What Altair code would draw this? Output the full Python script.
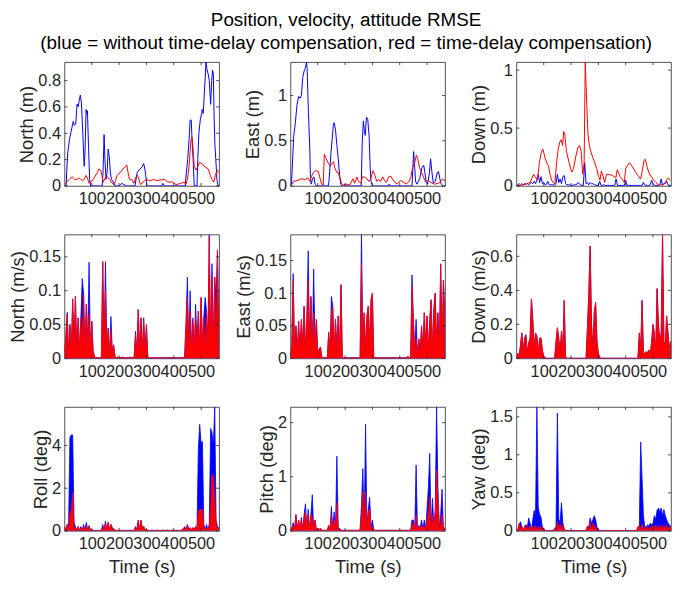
import altair as alt
import pandas as pd

FONT = "Liberation Sans"
AXC = "#262626"
BLUE = "#0000ff"
RED = "#ff0000"

TITLE_LINES = [
    "Position, velocity, attitude RMSE",
    "(blue = without time-delay compensation, red = time-delay compensation)",
]
X_TICKS = [100, 200, 300, 400, 500]
X_MAX = 566
GRID_STEP = 5  # seconds between samples of the grid-sampled series

# ---------------- Position (m): (time s, value) pairs ----------------
POS_N_BLUE = [(0, 0), (6, 0), (8, 0.1), (12, 0.25), (18, 0.35), (28, 0.45), (32, 0.49), (36, 0.46),
              (41, 0.47), (46, 0.62), (50, 0.60), (54, 0.65), (58, 0.69), (62, 0.63), (67, 0.40),
              (72, 0.15), (75, 0.25), (79, 0.58), (82, 0.55), (84, 0.57), (88, 0.3), (92, 0.05),
              (96, 0), (138, 0), (141, 0.1), (145, 0.39), (148, 0.2), (152, 0.05), (156, 0.1),
              (160, 0.28), (164, 0.22), (168, 0.1), (172, 0.05), (178, 0.03), (186, 0), (200, 0),
              (210, 0.02), (225, 0), (258, 0), (262, 0.05), (266, 0.1), (272, 0.12), (278, 0.13),
              (286, 0.15), (290, 0.17), (295, 0.12), (302, 0), (355, 0), (360, 0.02), (365, 0),
              (442, 0), (446, 0.1), (451, 0.2), (456, 0.35), (460, 0.5), (464, 0.5), (467, 0.35),
              (471, 0.2), (475, 0), (485, 0), (488, 0.2), (492, 0.4), (497, 0.5), (502, 0.55),
              (504, 0.58), (508, 0.55), (514, 0.78), (518, 0.94), (522, 0.88), (526, 0.85),
              (530, 0.8), (535, 0.62), (539, 0.8), (542, 0.88), (545, 0.85), (548, 0.5),
              (551, 0.3), (554, 0.2), (558, 0.05), (562, 0), (566, 0)]
POS_N_RED = [(0, 0.01), (5, 0.02), (12, 0.04), (18, 0.05), (28, 0.07), (33, 0.06), (38, 0.05),
             (46, 0.05), (54, 0.06), (60, 0.05), (66, 0.04), (72, 0.05), (79, 0.08), (84, 0.06),
             (90, 0.02), (98, 0.03), (108, 0.06), (120, 0.1), (126, 0.13), (132, 0.12), (136, 0.09),
             (142, 0.03), (149, 0.06), (156, 0.07), (166, 0.05), (170, 0.03), (180, 0.01),
             (187, 0.04), (192, 0.08), (197, 0.09), (204, 0.1), (210, 0.12), (220, 0.14),
             (228, 0.16), (233, 0.1), (238, 0.05), (246, 0.05), (254, 0.02), (262, 0.07),
             (268, 0.08), (274, 0.04), (278, 0.01), (288, 0.03), (300, 0.05), (312, 0.04),
             (327, 0.05), (336, 0.04), (366, 0.05), (378, 0.03), (396, 0.03), (408, 0.01),
             (426, 0.02), (438, 0.03), (444, 0.01), (450, 0.05), (456, 0.15), (463, 0.35),
             (467, 0.37), (470, 0.3), (475, 0.15), (482, 0.12), (489, 0.15), (494, 0.18),
             (504, 0.17), (511, 0.15), (518, 0.14), (526, 0.13), (534, 0.08), (540, 0.05),
             (547, 0.03), (552, 0.08), (559, 0.12), (564, 0.1)]

POS_E_BLUE = [(0, 0), (4, 0.02), (8, 0.3), (12, 0.55), (18, 0.7), (24, 0.9), (30, 0.99), (35, 0.97),
              (40, 1.0), (45, 1.2), (50, 1.27), (54, 1.3), (59, 1.37), (61, 1.3), (66, 0.8),
              (71, 0.4), (73, 0.1), (76, 0.02), (81, 0.08), (86, 0.1), (90, 0.02), (95, 0),
              (138, 0), (141, 0.05), (148, 0.35), (157, 0.67), (160, 0.7), (165, 0.62), (170, 0.45),
              (175, 0.3), (180, 0.12), (184, 0.02), (189, 0), (259, 0), (263, 0.5), (267, 0.72),
              (271, 0.6), (274, 0.56), (278, 0.76), (283, 0.74), (288, 0.55), (292, 0.2),
              (295, 0.05), (300, 0), (356, 0), (361, 0.02), (366, 0), (445, 0), (451, 0.38),
              (455, 0.2), (458, 0.05), (463, 0.02), (473, 0.08), (481, 0.2), (488, 0.23),
              (492, 0.15), (497, 0.05), (502, 0.02), (509, 0.15), (513, 0.3), (518, 0.15),
              (523, 0.03), (530, 0.05), (538, 0.15), (542, 0.16), (547, 0.08), (552, 0.02),
              (560, 0), (566, 0)]
POS_E_RED = [(0, 0.01), (6, 0.02), (12, 0.05), (24, 0.06), (42, 0.08), (54, 0.07), (64, 0.09),
             (71, 0.05), (76, 0.1), (84, 0.15), (92, 0.17), (102, 0.16), (107, 0.1), (114, 0.02),
             (120, 0.01), (124, 0.35), (131, 0.3), (139, 0.25), (146, 0.22), (153, 0.25),
             (158, 0.27), (162, 0.2), (170, 0.15), (175, 0.15), (182, 0.08), (187, 0.03),
             (193, 0.01), (205, 0.02), (217, 0.01), (229, 0.08), (235, 0.03), (244, 0.1),
             (249, 0.05), (259, 0.03), (263, 0.1), (270, 0.1), (280, 0.08), (287, 0.05),
             (294, 0.08), (302, 0.17), (309, 0.12), (316, 0.05), (323, 0.07), (330, 0.05),
             (338, 0.1), (345, 0.06), (352, 0.04), (359, 0.1), (367, 0.11), (379, 0.05),
             (391, 0.02), (403, 0.06), (415, 0.04), (425, 0.02), (434, 0.05), (441, 0.1),
             (447, 0.2), (454, 0.25), (461, 0.34), (466, 0.3), (473, 0.2), (480, 0.15),
             (487, 0.1), (494, 0.05), (502, 0.06), (509, 0.05), (519, 0.03), (528, 0.02),
             (542, 0.03), (554, 0.06), (560, 0.08), (565, 0.05)]

POS_D_RED = [(0, 0), (26, 0.01), (50, 0.03), (63, 0.1), (69, 0.08), (77, 0.05), (84, 0.2),
             (92, 0.3), (97, 0.32), (104, 0.25), (111, 0.2), (118, 0.17), (123, 0.1), (129, 0.05),
             (135, 0.03), (141, 0.02), (147, 0.2), (153, 0.32), (159, 0.38), (164, 0.4),
             (169, 0.35), (173, 0.47), (177, 0.45), (183, 0.3), (193, 0.2), (202, 0.12),
             (209, 0.15), (217, 0.25), (225, 0.33), (231, 0.35), (237, 0.3), (243, 0.1),
             (248, 0.2), (252, 1.07), (257, 0.75), (262, 0.45), (267, 0.35), (272, 0.3),
             (279, 0.25), (287, 0.2), (294, 0.15), (301, 0.08), (306, 0.05), (311, 0.13),
             (318, 0.08), (323, 0.03), (330, 0.1), (340, 0.1), (352, 0.09), (364, 0.07),
             (369, 0.14), (373, 0.12), (380, 0.08), (390, 0.05), (395, 0.03), (400, 0.15),
             (407, 0.18), (414, 0.2), (424, 0.17), (436, 0.12), (448, 0.08), (455, 0.06),
             (460, 0.12), (467, 0.22), (472, 0.23), (477, 0.18), (484, 0.12), (494, 0.08),
             (503, 0.05), (511, 0.03), (520, 0.01), (532, 0.01), (542, 0.02), (549, 0.05),
             (556, 0.07), (563, 0.05)]
# grid-sampled (every 5 s)
POS_D_BLUE = [0.005, 0.01, 0.02, 0.01, 0.02, 0.01, 0.02, 0.015, 0.02, 0.01,
              0.02, 0.03, 0.02, 0.04, 0.02, 0.05, 0.1, 0.03, 0.08, 0.02,
              0.03, 0.01, 0.015, 0.04, 0.01, 0.01, 0.01, 0.01, 0.005, 0.02,
              0.1, 0.03, 0.06, 0.02, 0.08, 0.09, 0.02, 0.01, 0.01, 0.01,
              0.005, 0.005, 0.01, 0.01, 0.01, 0.03, 0.02, 0.01, 0.005, 0.005,
              0.2, 0.02, 0.03, 0.01, 0.03, 0.02, 0.02, 0.01, 0.01, 0.005,
              0.005, 0.04, 0.005, 0.005, 0.01, 0.005, 0.005, 0.005, 0.005, 0.005,
              0.005, 0.005, 0.005, 0.06, 0.005, 0.005, 0.005, 0.005, 0.005, 0.005,
              0.05, 0.005, 0.005, 0.005, 0.005, 0.005, 0.005, 0.005, 0.005, 0.005,
              0.005, 0.005, 0.005, 0.03, 0.01, 0.005, 0.005, 0.005, 0.01, 0.05,
              0.02, 0.005, 0.005, 0.005, 0.005, 0.01, 0.06, 0.005, 0.02, 0.02,
              0.04, 0.01, 0.005, 0.005]

# ---------------- Velocity (m/s), sampled every 5 s ----------------
VEL_N_BLUE = [0.01, 0.03, 0.068, 0.005, 0.05, 0.01, 0.088, 0.02, 0.092, 0.01,
              0.06, 0.01, 0.06, 0.118, 0.095, 0.01, 0.08, 0.02, 0.142, 0.01,
              0.055, 0.01, 0.003, 0.001, 0.001, 0.001, 0.001, 0.001, 0.143, 0.02,
              0.143, 0.01, 0.045, 0.005, 0.062, 0.01, 0.02, 0.002, 0.001, 0.002,
              0.001, 0.001, 0.002, 0.001, 0.001, 0.001, 0.001, 0.001, 0.002, 0.001,
              0.001, 0.002, 0.04, 0.005, 0.072, 0.01, 0.06, 0.008, 0.06, 0.01,
              0.05, 0.002, 0.001, 0.001, 0.001, 0.001, 0.001, 0.001, 0.001, 0.001,
              0.001, 0.001, 0.001, 0.001, 0.001, 0.001, 0.001, 0.001, 0.001, 0.001,
              0.001, 0.001, 0.001, 0.001, 0.001, 0.001, 0.001, 0.001, 0.003, 0.055,
              0.12, 0.01, 0.1, 0.01, 0.06, 0.01, 0.08, 0.02, 0.07, 0.01,
              0.09, 0.02, 0.06, 0.09, 0.07, 0.02, 0.183, 0.01, 0.14, 0.02,
              0.12, 0.09, 0.16, 0.03]
VEL_N_RED = [0.01, 0.03, 0.065, 0.005, 0.05, 0.01, 0.088, 0.02, 0.092, 0.01,
             0.06, 0.01, 0.06, 0.02, 0.095, 0.01, 0.08, 0.02, 0.065, 0.01,
             0.055, 0.01, 0.003, 0.001, 0.001, 0.001, 0.001, 0.001, 0.143, 0.02,
             0.1, 0.01, 0.045, 0.005, 0.04, 0.01, 0.02, 0.002, 0.001, 0.002,
             0.001, 0.001, 0.002, 0.001, 0.001, 0.001, 0.001, 0.001, 0.002, 0.001,
             0.001, 0.002, 0.035, 0.005, 0.072, 0.01, 0.06, 0.008, 0.055, 0.01,
             0.05, 0.002, 0.001, 0.001, 0.001, 0.001, 0.001, 0.001, 0.001, 0.001,
             0.001, 0.001, 0.001, 0.001, 0.001, 0.001, 0.001, 0.001, 0.001, 0.001,
             0.001, 0.001, 0.001, 0.001, 0.001, 0.001, 0.001, 0.001, 0.003, 0.05,
             0.09, 0.01, 0.07, 0.01, 0.055, 0.01, 0.06, 0.02, 0.07, 0.01,
             0.09, 0.02, 0.06, 0.01, 0.07, 0.02, 0.18, 0.01, 0.12, 0.02,
             0.12, 0.01, 0.16, 0.03]

VEL_E_BLUE = [0.005, 0.02, 0.13, 0.01, 0.05, 0.01, 0.057, 0.01, 0.06, 0.02,
              0.08, 0.01, 0.06, 0.165, 0.02, 0.095, 0.01, 0.137, 0.02, 0.06,
              0.005, 0.015, 0.017, 0.001, 0.001, 0.001, 0.001, 0.001, 0.04, 0.01,
              0.095, 0.08, 0.01, 0.06, 0.01, 0.065, 0.005, 0.113, 0.001, 0.001,
              0.001, 0.001, 0.001, 0.001, 0.001, 0.001, 0.001, 0.001, 0.001, 0.001,
              0.001, 0.001, 0.19, 0.02, 0.07, 0.01, 0.065, 0.08, 0.02, 0.09,
              0.1, 0.002, 0.001, 0.001, 0.001, 0.001, 0.001, 0.001, 0.001, 0.001,
              0.001, 0.001, 0.001, 0.001, 0.001, 0.001, 0.001, 0.001, 0.001, 0.001,
              0.001, 0.001, 0.001, 0.001, 0.001, 0.001, 0.003, 0.001, 0.001, 0.128,
              0.06, 0.01, 0.06, 0.005, 0.03, 0.01, 0.05, 0.01, 0.07, 0.02,
              0.065, 0.01, 0.06, 0.09, 0.01, 0.075, 0.1, 0.02, 0.07, 0.01,
              0.145, 0.02, 0.12, 0.065]
VEL_E_RED = [0.005, 0.02, 0.12, 0.01, 0.05, 0.01, 0.057, 0.01, 0.06, 0.02,
             0.08, 0.01, 0.06, 0.12, 0.02, 0.095, 0.01, 0.07, 0.02, 0.06,
             0.005, 0.015, 0.017, 0.001, 0.001, 0.001, 0.001, 0.001, 0.04, 0.01,
             0.07, 0.08, 0.01, 0.06, 0.01, 0.065, 0.005, 0.113, 0.001, 0.001,
             0.001, 0.001, 0.001, 0.001, 0.001, 0.001, 0.001, 0.001, 0.001, 0.001,
             0.001, 0.001, 0.145, 0.02, 0.07, 0.01, 0.065, 0.08, 0.02, 0.09,
             0.1, 0.002, 0.001, 0.001, 0.001, 0.001, 0.001, 0.001, 0.001, 0.001,
             0.001, 0.001, 0.001, 0.001, 0.001, 0.001, 0.001, 0.001, 0.001, 0.001,
             0.001, 0.001, 0.001, 0.001, 0.001, 0.001, 0.003, 0.001, 0.001, 0.11,
             0.06, 0.01, 0.03, 0.005, 0.03, 0.01, 0.05, 0.01, 0.07, 0.02,
             0.065, 0.01, 0.06, 0.09, 0.01, 0.075, 0.1, 0.02, 0.07, 0.01,
             0.145, 0.02, 0.12, 0.065]

VEL_D_BLUE = [0.005, 0.03, 0.01, 0.08, 0.15, 0.04, 0.12, 0.14, 0.03, 0.09,
              0.12, 0.35, 0.23, 0.05, 0.15, 0.13, 0.03, 0.12, 0.12, 0.05,
              0.01, 0.005, 0.001, 0.001, 0.001, 0.001, 0.001, 0.001, 0.001, 0.1,
              0.18, 0.12, 0.03, 0.16, 0.05, 0.34, 0.005, 0.001, 0.001, 0.001,
              0.001, 0.001, 0.001, 0.001, 0.001, 0.001, 0.001, 0.001, 0.001, 0.001,
              0.001, 0.001, 0.18, 0.38, 0.66, 0.2, 0.05, 0.27, 0.33, 0.1,
              0.03, 0.005, 0.001, 0.001, 0.001, 0.001, 0.001, 0.001, 0.001, 0.001,
              0.001, 0.001, 0.001, 0.001, 0.001, 0.001, 0.001, 0.001, 0.001, 0.001,
              0.001, 0.001, 0.001, 0.001, 0.001, 0.001, 0.001, 0.001, 0.001, 0.003,
              0.15, 0.05, 0.34, 0.04, 0.02, 0.04, 0.03, 0.05, 0.02, 0.1,
              0.2, 0.15, 0.03, 0.41, 0.2, 0.1, 0.15, 0.728, 0.1, 0.08,
              0.25, 0.15, 0.06, 0.1]
VEL_D_RED = [0.005, 0.03, 0.01, 0.08, 0.15, 0.04, 0.12, 0.13, 0.03, 0.09,
             0.12, 0.35, 0.23, 0.05, 0.15, 0.13, 0.03, 0.12, 0.12, 0.05,
             0.01, 0.005, 0.001, 0.001, 0.001, 0.001, 0.001, 0.001, 0.001, 0.1,
             0.18, 0.12, 0.03, 0.16, 0.05, 0.34, 0.005, 0.001, 0.001, 0.001,
             0.001, 0.001, 0.001, 0.001, 0.001, 0.001, 0.001, 0.001, 0.001, 0.001,
             0.001, 0.001, 0.18, 0.38, 0.66, 0.2, 0.05, 0.27, 0.33, 0.1,
             0.03, 0.005, 0.001, 0.001, 0.001, 0.001, 0.001, 0.001, 0.001, 0.001,
             0.001, 0.001, 0.001, 0.001, 0.001, 0.001, 0.001, 0.001, 0.001, 0.001,
             0.001, 0.001, 0.001, 0.001, 0.001, 0.001, 0.001, 0.001, 0.001, 0.003,
             0.15, 0.05, 0.34, 0.04, 0.02, 0.04, 0.03, 0.05, 0.02, 0.1,
             0.2, 0.15, 0.03, 0.41, 0.2, 0.1, 0.15, 0.728, 0.1, 0.08,
             0.25, 0.15, 0.06, 0.1]

# ---------------- Attitude (deg), sampled every 5 s ----------------
ROLL_BLUE = [0.2, 0.03, 0.3, 0.3, 4.4, 4.5, 4.5, 0.4, 0.2, 0.03,
             0.2, 0.03, 0.2, 0.03, 0.3, 0.05, 0.4, 0.03, 0.25, 0.03,
             0.05, 0.02, 0.02, 0.02, 0.02, 0.02, 0.02, 0.03, 0.3, 0.05,
             0.45, 0.05, 0.4, 0.05, 0.3, 0.15, 0.1, 0.03, 0.02, 0.02,
             0.02, 0.02, 0.03, 0.02, 0.02, 0.02, 0.02, 0.02, 0.03, 0.02,
             0.02, 0.03, 0.2, 0.05, 0.5, 0.05, 0.5, 0.15, 0.2, 0.05,
             0.05, 0.03, 0.02, 0.02, 0.03, 0.02, 0.02, 0.02, 0.03, 0.02,
             0.02, 0.02, 0.03, 0.02, 0.02, 0.03, 0.02, 0.02, 0.02, 0.03,
             0.02, 0.02, 0.03, 0.02, 0.02, 0.02, 0.05, 0.1, 0.2, 0.05,
             0.3, 0.05, 0.15, 0.05, 0.15, 0.05, 0.2, 0.05, 3.8, 5.0,
             4.1, 4.2, 0.3, 0.05, 0.3, 0.05, 0.3, 4.8, 4.6, 4.0,
             5.81, 0.5, 0.2, 0.15]
ROLL_RED = [0.2, 0.03, 0.3, 0.05, 0.8, 1.0, 1.8, 0.05, 0.15, 0.03,
            0.2, 0.03, 0.15, 0.03, 0.2, 0.03, 0.25, 0.03, 0.2, 0.03,
            0.05, 0.02, 0.02, 0.02, 0.02, 0.02, 0.02, 0.03, 0.2, 0.03,
            0.35, 0.05, 0.4, 0.05, 0.3, 0.1, 0.1, 0.03, 0.02, 0.02,
            0.02, 0.02, 0.03, 0.02, 0.02, 0.02, 0.02, 0.02, 0.03, 0.02,
            0.02, 0.03, 0.15, 0.05, 0.5, 0.05, 0.5, 0.1, 0.2, 0.05,
            0.05, 0.03, 0.02, 0.02, 0.03, 0.02, 0.02, 0.02, 0.03, 0.02,
            0.02, 0.02, 0.03, 0.02, 0.02, 0.03, 0.02, 0.02, 0.02, 0.03,
            0.02, 0.02, 0.03, 0.02, 0.02, 0.02, 0.05, 0.1, 0.15, 0.05,
            0.25, 0.05, 0.15, 0.05, 0.15, 0.05, 0.2, 0.05, 0.9, 1.0,
            1.0, 1.0, 0.15, 0.05, 0.15, 0.05, 0.2, 1.0, 2.6, 2.6,
            1.5, 0.3, 0.1, 0.15]

PITCH_BLUE = [0.02, 0.05, 0.15, 0.02, 0.3, 0.02, 0.2, 0.02, 0.25, 0.02,
              0.3, 0.5, 0.02, 0.4, 0.02, 0.3, 0.67, 0.02, 0.2, 0.02,
              0.05, 0.02, 0.05, 0.01, 0.01, 0.01, 0.01, 0.01, 0.1, 0.02,
              0.45, 0.02, 0.35, 0.02, 1.38, 0.02, 0.05, 0.01, 0.01, 0.01,
              0.01, 0.01, 0.01, 0.01, 0.01, 0.01, 0.01, 0.01, 0.01, 0.01,
              0.01, 0.02, 0.47, 1.15, 0.05, 1.97, 0.05, 0.4, 0.62, 0.05,
              0.2, 0.02, 0.01, 0.01, 0.01, 0.01, 0.01, 0.01, 0.01, 0.01,
              0.01, 0.01, 0.01, 0.01, 0.01, 0.01, 0.01, 0.01, 0.01, 0.01,
              0.01, 0.01, 0.01, 0.01, 0.01, 0.01, 0.01, 0.01, 0.01, 0.2,
              0.2, 0.02, 1.22, 0.02, 0.1, 0.05, 0.2, 0.03, 0.2, 0.03,
              0.4, 0.8, 1.43, 0.03, 0.6, 0.05, 0.4, 2.29, 0.8, 0.05,
              0.3, 0.77, 0.05, 0.05]
PITCH_RED = [0.02, 0.05, 0.1, 0.02, 0.3, 0.02, 0.2, 0.02, 0.2, 0.02,
             0.25, 0.35, 0.02, 0.3, 0.02, 0.3, 0.25, 0.02, 0.2, 0.02,
             0.05, 0.02, 0.05, 0.01, 0.01, 0.01, 0.01, 0.01, 0.1, 0.02,
             0.3, 0.02, 0.2, 0.02, 0.52, 0.02, 0.02, 0.01, 0.01, 0.01,
             0.01, 0.01, 0.01, 0.01, 0.01, 0.01, 0.01, 0.01, 0.01, 0.01,
             0.01, 0.02, 0.25, 0.73, 0.05, 0.72, 0.05, 0.35, 0.4, 0.05,
             0.08, 0.02, 0.01, 0.01, 0.01, 0.01, 0.01, 0.01, 0.01, 0.01,
             0.01, 0.01, 0.01, 0.01, 0.01, 0.01, 0.01, 0.01, 0.01, 0.01,
             0.01, 0.01, 0.01, 0.01, 0.01, 0.01, 0.01, 0.01, 0.01, 0.08,
             0.15, 0.02, 0.3, 0.02, 0.08, 0.05, 0.1, 0.03, 0.1, 0.03,
             0.2, 0.35, 0.63, 0.03, 0.3, 0.05, 0.25, 1.12, 0.6, 0.05,
             0.1, 0.3, 0.05, 0.05]

YAW_BLUE = [0.02, 0.005, 0.08, 0.12, 0.05, 0.005, 0.04, 0.08, 0.05, 0.17,
            0.1, 0.01, 0.15, 0.27, 0.2, 1.63, 0.3, 0.22, 0.18, 0.05,
            0.03, 0.005, 0.005, 0.005, 0.005, 0.005, 0.005, 0.005, 0.03, 0.05,
            1.55, 0.15, 0.12, 0.37, 0.1, 0.03, 0.005, 0.005, 0.005, 0.005,
            0.005, 0.005, 0.005, 0.005, 0.005, 0.005, 0.005, 0.005, 0.005, 0.005,
            0.005, 0.005, 0.06, 0.05, 0.17, 0.1, 0.15, 0.2, 0.15, 0.05,
            0.01, 0.005, 0.005, 0.005, 0.005, 0.005, 0.005, 0.005, 0.005, 0.005,
            0.005, 0.005, 0.005, 0.005, 0.005, 0.005, 0.005, 0.005, 0.005, 0.005,
            0.005, 0.005, 0.005, 0.005, 0.005, 0.005, 0.005, 0.005, 0.005, 0.05,
            0.07, 1.17, 0.7, 0.2, 0.05, 0.05, 0.08, 0.06, 0.1, 0.08,
            0.1, 0.2, 0.15, 0.27, 0.3, 0.25, 0.3, 0.2, 0.28, 0.2,
            0.15, 0.1, 0.08, 0.05]
YAW_RED = [0.03, 0.005, 0.1, 0.01, 0.06, 0.005, 0.07, 0.01, 0.06, 0.005,
           0.07, 0.01, 0.06, 0.005, 0.07, 0.01, 0.06, 0.005, 0.06, 0.01,
           0.03, 0.005, 0.005, 0.005, 0.005, 0.005, 0.005, 0.005, 0.03, 0.01,
           0.12, 0.01, 0.1, 0.005, 0.08, 0.01, 0.005, 0.005, 0.005, 0.005,
           0.005, 0.005, 0.005, 0.005, 0.005, 0.005, 0.005, 0.005, 0.005, 0.005,
           0.005, 0.005, 0.06, 0.01, 0.12, 0.005, 0.1, 0.01, 0.07, 0.005,
           0.01, 0.005, 0.005, 0.005, 0.005, 0.005, 0.005, 0.005, 0.005, 0.005,
           0.005, 0.005, 0.005, 0.005, 0.005, 0.005, 0.005, 0.005, 0.005, 0.005,
           0.005, 0.005, 0.005, 0.005, 0.005, 0.005, 0.005, 0.005, 0.005, 0.05,
           0.07, 0.01, 0.09, 0.005, 0.05, 0.01, 0.06, 0.005, 0.06, 0.01,
           0.07, 0.005, 0.08, 0.01, 0.07, 0.005, 0.08, 0.01, 0.07, 0.005,
           0.08, 0.01, 0.06, 0.01]

W, H = 156, 125


def pairs_df(pairs):
    return pd.DataFrame(pairs, columns=["t", "v"])


def grid_df(values):
    return pd.DataFrame({"t": [GRID_STEP * i for i in range(len(values))], "v": values})


def series_mark(df, color, dense):
    if dense:
        return alt.Chart(df).mark_area(color=color, opacity=1, clip=True,
                                       line=alt.OverlayMarkDef(color=color, strokeWidth=0.8))
    return alt.Chart(df).mark_line(color=color, strokeWidth=1, clip=True)


def panel(blue, red, ytitle, ymax, yticks, xtitle, dense=False):
    xs = alt.Scale(domain=[0, X_MAX], nice=False, zero=False)
    ys = alt.Scale(domain=[0, ymax], nice=False, zero=False)
    xaxis_kw = dict(values=X_TICKS, labelOverlap=False, labelFlush=False, labelBound=False,
                    ticks=False, domain=False, grid=False, labelPadding=5, format="d")
    if xtitle:
        xaxis = alt.Axis(title=xtitle, titlePadding=6, **xaxis_kw)
    else:
        xaxis = alt.Axis(title=None, **xaxis_kw)
    yaxis = alt.Axis(values=yticks, format="~g", ticks=False, domain=False, grid=False,
                     labelPadding=4, titlePadding=1, title=ytitle)
    X = alt.X("t:Q", scale=xs, axis=xaxis)
    Y = alt.Y("v:Q", scale=ys, axis=yaxis)
    b = series_mark(blue, BLUE, dense).encode(x=X, y=Y)
    r = series_mark(red, RED, dense).encode(x=X, y=Y)
    xt = pd.DataFrame({"t": X_TICKS})
    yt = pd.DataFrame({"v": yticks})
    tb = alt.Chart(xt).mark_rule(color=AXC, strokeWidth=0.8).encode(
        x=X, y=alt.value(H), y2=alt.value(H - 3))
    tt = alt.Chart(xt).mark_rule(color=AXC, strokeWidth=0.8).encode(
        x=X, y=alt.value(0), y2=alt.value(3))
    tl = alt.Chart(yt).mark_rule(color=AXC, strokeWidth=0.8).encode(
        y=Y, x=alt.value(0), x2=alt.value(3))
    tr = alt.Chart(yt).mark_rule(color=AXC, strokeWidth=0.8).encode(
        y=Y, x=alt.value(W), x2=alt.value(W - 3))
    return alt.layer(b, r, tb, tt, tl, tr).properties(width=W, height=H)


panels = [
    panel(pairs_df(POS_N_BLUE), pairs_df(POS_N_RED), "North (m)", 0.94, [0, 0.2, 0.4, 0.6, 0.8], None),
    panel(pairs_df(POS_E_BLUE), pairs_df(POS_E_RED), "East (m)", 1.37, [0, 0.5, 1], None),
    panel(grid_df(POS_D_BLUE), pairs_df(POS_D_RED), "Down (m)", 1.07, [0, 0.5, 1], None),
    panel(grid_df(VEL_N_BLUE), grid_df(VEL_N_RED), "North (m/s)", 0.183, [0, 0.05, 0.1, 0.15], None, True),
    panel(grid_df(VEL_E_BLUE), grid_df(VEL_E_RED), "East (m/s)", 0.19, [0, 0.05, 0.1, 0.15], None, True),
    panel(grid_df(VEL_D_BLUE), grid_df(VEL_D_RED), "Down (m/s)", 0.728, [0, 0.2, 0.4, 0.6], None, True),
    panel(grid_df(ROLL_BLUE), grid_df(ROLL_RED), "Roll (deg)", 5.81, [0, 2, 4], "Time (s)", True),
    panel(grid_df(PITCH_BLUE), grid_df(PITCH_RED), "Pitch (deg)", 2.29, [0, 1, 2], "Time (s)", True),
    panel(grid_df(YAW_BLUE), grid_df(YAW_RED), "Yaw (deg)", 1.63, [0, 0.5, 1, 1.5], "Time (s)", True),
]

chart = alt.concat(
    *panels, columns=3, bounds="flush",
    spacing=alt.RowColnumber(row=49, column=72),
).properties(
    title=alt.TitleParams(text=TITLE_LINES, fontSize=19, font=FONT, fontWeight="normal",
                          color="#000000", anchor="middle", lineHeight=24, offset=8, dx=6),
    padding={"left": 0, "top": 0, "right": 0, "bottom": 0},
).configure_view(
    stroke=AXC, strokeWidth=0.8
).configure_axis(
    labelFont=FONT, titleFont=FONT, labelFontSize=16.5, titleFontSize=18.5,
    labelColor=AXC, titleColor=AXC, titleFontWeight="normal", labelOverlap=False,
)

chart.save("out.html", embed_options={"renderer": "svg", "actions": False})
